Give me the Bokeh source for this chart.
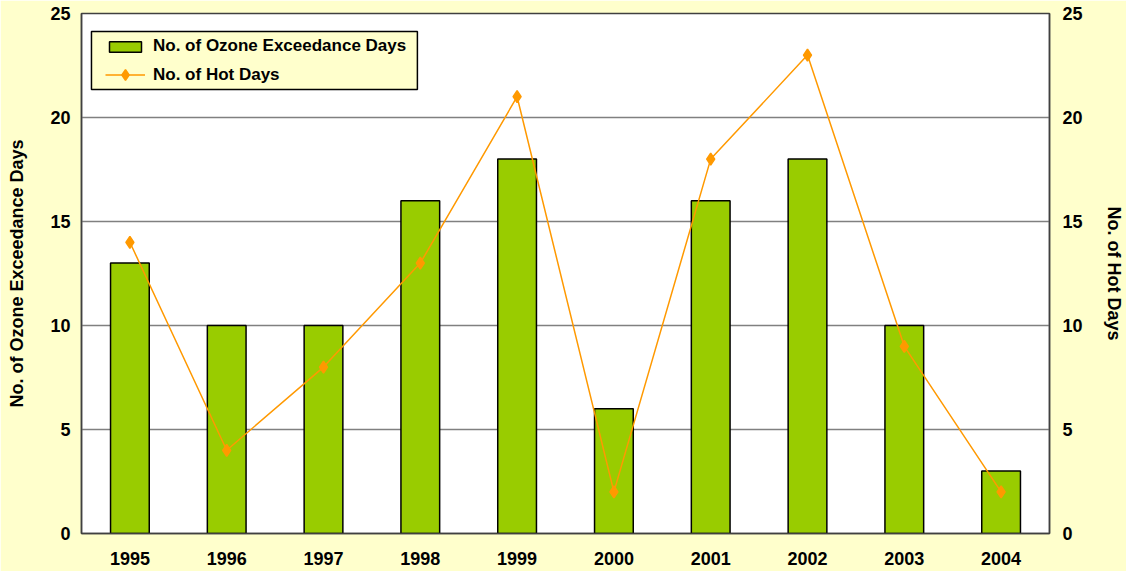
from bokeh.plotting import figure
from bokeh.models import (Range1d, LinearAxis, FixedTicker, Legend, LegendItem,
                          ColumnDataSource, BoxAnnotation)
from bokeh.embed import file_html
from bokeh.resources import INLINE

years = ["1995", "1996", "1997", "1998", "1999", "2000", "2001", "2002", "2003", "2004"]
ozone_days = [13, 10, 10, 16, 18, 6, 16, 18, 10, 3]
hot_days = [14, 4, 8, 13, 21, 2, 18, 23, 9, 2]
y_ticks = [0, 5, 10, 15, 20, 25]

FONT = "Liberation Sans"
src = ColumnDataSource(dict(year=years, ozone=ozone_days, hot=hot_days))

p = figure(x_range=years, y_range=Range1d(0, 25), width=1126, height=571,
           output_backend="svg", toolbar_location=None,
           min_border_left=81, min_border_right=74, min_border_top=13, min_border_bottom=38)
p.border_fill_color = "#FFFFCC"
p.background_fill_color = "white"
p.outline_line_color = "#404040"
p.outline_line_width = 1.5

p.extra_y_ranges = {"hot": Range1d(0, 25)}

# legend box (drawn behind the legend entries)
box = BoxAnnotation(left=0.103, right=3.47, top=24.13, bottom=21.35,
                    fill_color="#FFFFCC", fill_alpha=1,
                    line_color="black", line_width=1.5, line_alpha=1)
p.add_layout(box)

bars = p.vbar(x="year", top="ozone", width=0.4, source=src,
              fill_color="#99CC00", line_color="black", line_width=1.5)
line = p.line(x="year", y="hot", source=src, y_range_name="hot",
              line_color="#FF9900", line_width=1.5)
pts = p.scatter(x="year", y="hot", source=src, y_range_name="hot", marker="diamond",
                size=12, line_width=1.5, fill_color="#FF9900", line_color="#FF9900")

p.xgrid.grid_line_color = None
p.ygrid.grid_line_color = "#808080"
p.ygrid.grid_line_width = 1.5
p.yaxis.ticker = FixedTicker(ticks=y_ticks)


def style_axis(ax, standoff, label_standoff):
    ax.major_tick_line_color = None
    ax.minor_tick_line_color = None
    ax.major_tick_out = 0
    ax.major_tick_in = 0
    ax.minor_tick_out = 0
    ax.axis_line_color = "#404040"
    ax.axis_line_width = 1.5
    ax.major_label_text_font = FONT
    ax.major_label_text_font_style = "bold"
    ax.major_label_text_font_size = "18px"
    ax.major_label_text_color = "black"
    ax.major_label_standoff = standoff
    ax.axis_label_text_font = FONT
    ax.axis_label_text_font_style = "bold"
    ax.axis_label_text_font_size = "18px"
    ax.axis_label_text_color = "black"
    ax.axis_label_standoff = label_standoff


style_axis(p.xaxis[0], 18, 0)
p.yaxis.axis_label = "No. of Ozone Exceedance Days"
style_axis(p.yaxis[0], 11, 20)

rax = LinearAxis(y_range_name="hot", ticker=FixedTicker(ticks=y_ticks),
                 axis_label="No. of Hot Days")
style_axis(rax, 13, 18)
p.add_layout(rax, "right")


def make_legend(items, loc, glyph_h):
    lg = Legend(items=items, location=loc, margin=0)
    lg.background_fill_alpha = 0
    lg.border_line_alpha = 0
    lg.label_text_font = FONT
    lg.label_text_font_style = "bold"
    lg.label_text_font_size = "17px"
    lg.label_text_color = "black"
    lg.glyph_width = 40
    lg.glyph_height = glyph_h
    lg.label_height = 20
    lg.padding = 5
    lg.label_standoff = 8
    return lg


leg1 = make_legend([LegendItem(label="No. of Ozone Exceedance Days", renderers=[bars])],
                   (19, 472), 13)
leg2 = make_legend([LegendItem(label="No. of Hot Days", renderers=[line, pts])],
                   (19, 440), 27)
p.add_layout(leg1)
p.add_layout(leg2)

open("out.html", "w").write(file_html(p, INLINE))
